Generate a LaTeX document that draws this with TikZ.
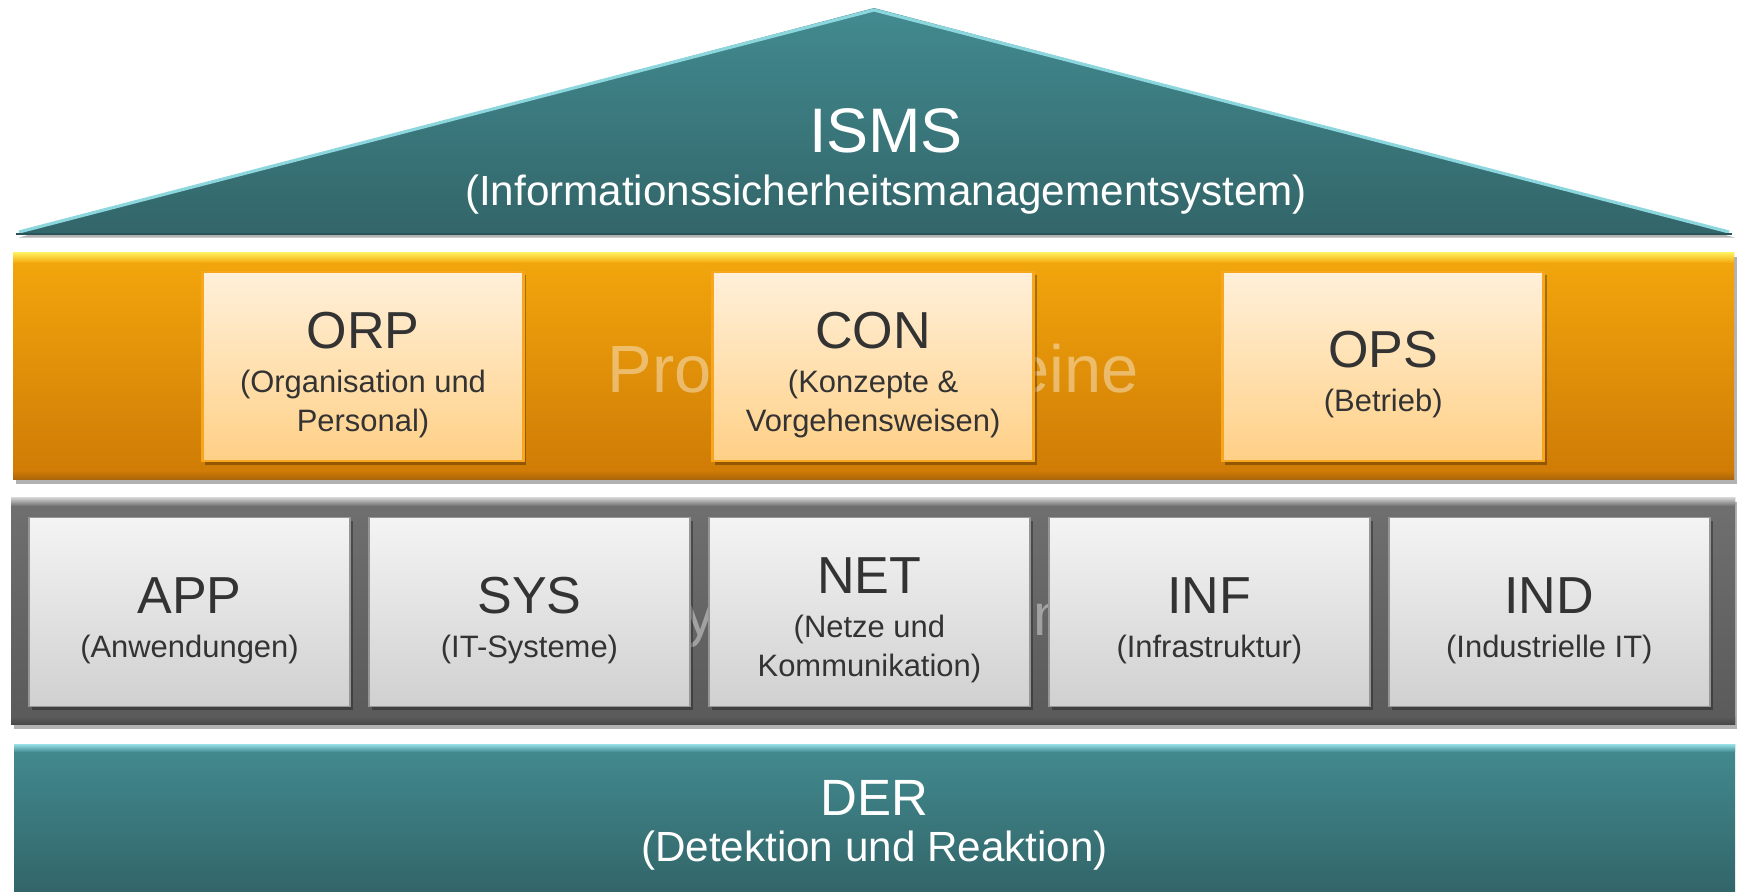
\documentclass[tikz,border=0pt]{standalone}
\usepackage{fontspec}
\setmainfont{Liberation Sans}
\usetikzlibrary{positioning}
\usetikzlibrary{shadows}

\definecolor{tealtop}{RGB}{66,139,144}
\definecolor{tealbot}{RGB}{50,101,105}
\definecolor{teallight}{RGB}{140,214,221}
\definecolor{tealdark}{RGB}{40,84,88}
\definecolor{orgtop}{RGB}{243,167,12}
\definecolor{orgbot}{RGB}{206,122,6}
\definecolor{orglight}{RGB}{255,236,90}
\definecolor{orgdark}{RGB}{168,100,10}
\definecolor{peachtop}{RGB}{255,240,218}
\definecolor{peachbot}{RGB}{255,208,134}
\definecolor{peachline}{RGB}{247,166,30}
\definecolor{greytop}{RGB}{112,112,112}
\definecolor{greybot}{RGB}{90,90,90}
\definecolor{greylight}{RGB}{205,205,205}
\definecolor{greydark}{RGB}{70,70,70}
\definecolor{boxtop}{RGB}{244,244,244}
\definecolor{boxbot}{RGB}{208,208,208}
\definecolor{boxline}{RGB}{150,150,150}
\definecolor{txt}{RGB}{51,51,51}

\newcommand{\kuerzel}[1]{{\fontsize{14.8}{16}\selectfont\rule{0pt}{15pt}#1}\\[1.4pt]}

\begin{document}
\begin{tikzpicture}[x=0.01cm,y=-0.01cm,
    tealband/.style={top color=tealtop, bottom color=tealbot},
    orangeband/.style={top color=orgtop, bottom color=orgbot},
    greyband/.style={top color=greytop, bottom color=greybot},
    softshadow/.style={drop shadow={shadow xshift=0.8pt, shadow yshift=-1pt, opacity=0.3, fill=black}},
    procbox/.style={rectangle, draw=peachline, line width=0.8pt, top color=peachtop, bottom color=peachbot,
      minimum width=3.21cm, minimum height=1.89cm, inner sep=0pt, align=center, text=txt,
      font=\fontsize{8.8}{11.1}\selectfont, softshadow},
    sysbox/.style={rectangle, draw=boxline, line width=0.5pt, top color=boxtop, bottom color=boxbot,
      minimum width=3.21cm, minimum height=1.89cm, inner sep=0pt, align=center, text=txt,
      font=\fontsize{8.8}{11.1}\selectfont, softshadow},
    watermark/.style={anchor=base, text=white, text opacity=0.4, font=\fontsize{19}{22}\selectfont}
  ]
\fill[white] (0,0) rectangle (1737,892);
\useasboundingbox (0,0) rectangle (1737,892);

% roof
\path[tealband, softshadow] (16,234) -- (874,8) -- (1732,234) -- cycle;
\draw[teallight, line width=0.9pt, line join=round] (19,232) -- (874,10) -- (1729,232);
\draw[tealdark, line width=0.6pt] (16,234) -- (1732,234);
\node[align=center, text=white, font=\fontsize{12}{15.1}\selectfont] (isms) at (886,161.5)
  {{\fontsize{17.9}{20}\selectfont ISMS}\\(Informationssicherheitsmanagementsystem)};

% process layer
\path[orangeband, softshadow] (13,253) rectangle (1734,480);
\shade[top color=orglight, bottom color=orgtop] (13,253) rectangle (1734,263);
\shade[top color=orgbot, bottom color=orgdark] (13,471) rectangle (1734,480);
\node[watermark] (prozwm) at (873,393) {Prozessbausteine};

\node[procbox] (orp) at (363,366.5) {\kuerzel{ORP}(Organisation und\\Personal)};
\node[procbox, right=1.86cm of orp] (con) {\kuerzel{CON}(Konzepte \&\\Vorgehensweisen)};
\node[procbox, right=1.86cm of con] (ops) {\kuerzel{OPS}(Betrieb)};

% system layer
\path[greyband, softshadow] (11,498) rectangle (1735,725);
\shade[top color=greylight, bottom color=greytop] (11,498) rectangle (1735,506);
\shade[top color=greybot, bottom color=greydark] (11,717) rectangle (1735,725);
\node[watermark, font=\fontsize{16.8}{20}\selectfont] (syswm) at (873,636) {Systembausteine};

\node[sysbox] (app) at (189.5,612) {\kuerzel{APP}(Anwendungen)};
\node[sysbox, right=0.17cm of app] (sys) {\kuerzel{SYS}(IT-Systeme)};
\node[sysbox, right=0.17cm of sys] (net) {\kuerzel{NET}(Netze und\\Kommunikation)};
\node[sysbox, right=0.17cm of net] (inf) {\kuerzel{INF}(Infrastruktur)};
\node[sysbox, right=0.17cm of inf] (ind) {\kuerzel{IND}(Industrielle IT)};

% detection
\path[tealband] (14,745) rectangle (1735,892);
\shade[top color=teallight, bottom color=tealtop] (14,745) rectangle (1735,752);
\node[align=center, text=white, font=\fontsize{12}{13.1}\selectfont] (der) at (874.5,825)
  {{\fontsize{14.5}{16}\selectfont DER}\\(Detektion und Reaktion)};
\end{tikzpicture}
\end{document}
